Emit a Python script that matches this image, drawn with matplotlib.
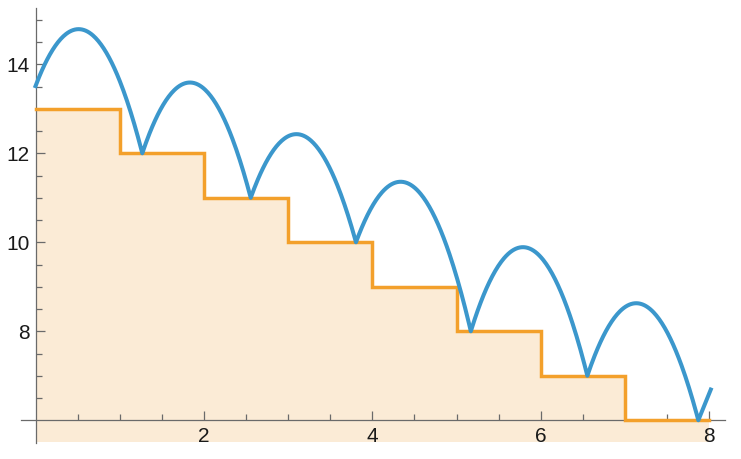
import numpy as np
import matplotlib
matplotlib.use("Agg")
import matplotlib.pyplot as plt
from matplotlib.ticker import FixedLocator

# Step function data (value on [x, x+1))
step_x = [0, 1, 2, 3, 4, 5, 6, 7, 8]
step_y = [13, 12, 11, 10, 9, 8, 7, 6, 6]

# Bouncing curve: contact points and apexes
contact_x = [0.0, 1.268, 2.556, 3.806, 5.170, 6.554, 7.872]
contact_y = [13.51, 12.0, 11.0, 10.0, 8.0, 7.0, 6.0]
peak_x = [0.508, 1.823, 3.094, 4.330, 5.786, 7.140]
peak_y = [14.79, 13.59, 12.43, 11.36, 9.89, 8.63]
end_x, end_y = 8.02, 6.69

x_ticks = [2, 4, 6, 8]
y_ticks = [8, 10, 12, 14]

blue = "#3b97cc"
orange = "#f3a02b"
fill_c = "#fbebd6"
axis_c = "#6a6a6a"

plt.rcParams['font.family'] = ['Liberation Sans', 'DejaVu Sans']

fig = plt.figure(figsize=(7.41, 4.59), dpi=100)
ax = fig.add_axes([21.2/741, 1-442.5/459, (725.1-21.2)/741, (442.5-7.8)/459])
ax.set_xlim(-0.17, 8.19)
ax.set_ylim(5.5, 15.27)

# fill under steps
ax.fill_between(step_x, step_y, 5.5, step='post', color=fill_c, lw=0, zorder=1)
ax.step(step_x, step_y, where='post', color=orange, lw=2.5, zorder=3,
        solid_joinstyle='miter')

# bouncing arcs
xs_all, ys_all = [], []
for i in range(len(peak_x)):
    px = [contact_x[i], peak_x[i], contact_x[i+1]]
    py = [contact_y[i], peak_y[i], contact_y[i+1]]
    c = np.polyfit(px, py, 2)
    xx = np.linspace(px[0], px[2], 120)
    xs_all.extend(xx)
    ys_all.extend(np.polyval(c, xx))
xs_all.extend([contact_x[-1], end_x])
ys_all.extend([contact_y[-1], end_y])
ax.plot(xs_all, ys_all, color=blue, lw=2.9, zorder=4, solid_joinstyle='round')

# axes styling
for s in ['top', 'right']:
    ax.spines[s].set_visible(False)
ax.spines['left'].set_position(('data', 0))
ax.spines['bottom'].set_position(('data', 6))
for s in ['left', 'bottom']:
    ax.spines[s].set_color(axis_c)
    ax.spines[s].set_linewidth(0.9)
    ax.spines[s].set_zorder(2)
ax.patch.set_visible(False)

ax.xaxis.set_major_locator(FixedLocator(x_ticks))
ax.yaxis.set_major_locator(FixedLocator(y_ticks))
ax.xaxis.set_minor_locator(FixedLocator([v for v in np.arange(0.5, 8.01, 0.5) if v not in x_ticks]))
ax.yaxis.set_minor_locator(FixedLocator([v for v in np.arange(6.5, 15.01, 0.5) if v not in y_ticks]))
ax.tick_params(which='major', direction='in', length=6.5, width=0.9, color=axis_c,
               labelsize=15, labelcolor='#1a1a1a')
ax.tick_params(which='minor', direction='in', length=4, width=0.9, color=axis_c)
ax.tick_params(axis='x', which='major', pad=5)
ax.tick_params(axis='y', which='major', pad=4)
ax.set_xticklabels([str(v) for v in x_ticks])
ax.set_yticklabels([str(v) for v in y_ticks])

fig.savefig("out.png", dpi=100)
